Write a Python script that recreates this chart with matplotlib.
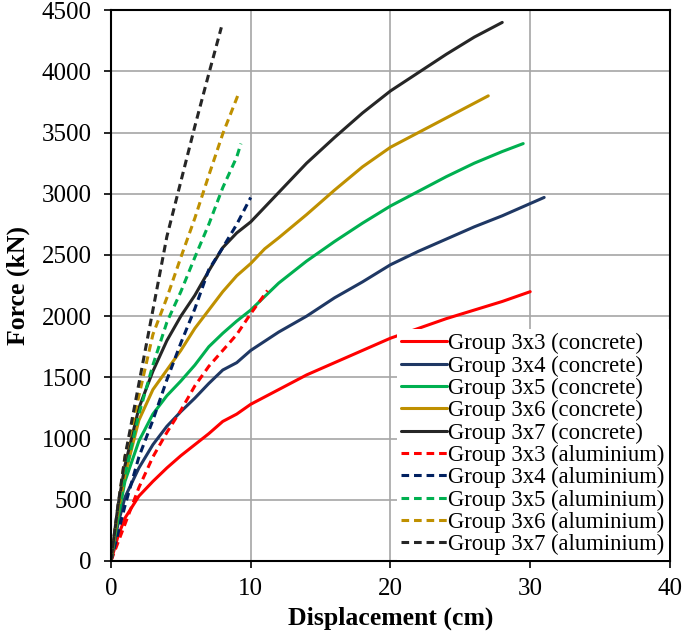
import matplotlib
matplotlib.use("Agg")
import matplotlib.pyplot as plt

# data (displacement cm, force kN)
c33_x = [0, 0.5, 1, 2, 3, 4, 5, 6, 7, 8, 9, 10, 12, 14, 16, 18, 20, 22, 24, 26, 28, 30]
c33_y = [0, 200, 350, 530, 650, 760, 860, 950, 1040, 1140, 1200, 1280, 1400, 1520, 1620, 1720, 1820, 1900, 1980, 2050, 2120, 2200]

c34_x = [0, 0.5, 1, 2, 3, 4, 5, 6, 7, 8, 9, 10, 12, 14, 16, 18, 20, 22, 24, 26, 28, 30, 31]
c34_y = [0, 300, 520, 760, 950, 1100, 1220, 1330, 1450, 1560, 1620, 1720, 1870, 2000, 2150, 2280, 2420, 2530, 2630, 2730, 2820, 2920, 2970]

c35_x = [0, 0.5, 1, 2, 3, 4, 5, 6, 7, 8, 9, 10, 12, 14, 16, 18, 20, 22, 24, 26, 28, 29.5]
c35_y = [0, 350, 650, 980, 1200, 1350, 1470, 1600, 1750, 1860, 1960, 2050, 2270, 2450, 2610, 2760, 2900, 3020, 3140, 3250, 3345, 3410]

c36_x = [0, 0.5, 1, 2, 3, 4, 5, 6, 7, 8, 9, 10, 11, 12, 14, 16, 18, 20, 22, 24, 26, 27]
c36_y = [0, 400, 700, 1150, 1400, 1560, 1720, 1900, 2050, 2200, 2330, 2430, 2550, 2640, 2830, 3030, 3220, 3380, 3500, 3620, 3740, 3800]

c37_x = [0, 0.5, 1, 2, 3, 4, 5, 6, 7, 8, 9, 10, 12, 14, 16, 18, 20, 22, 24, 26, 28]
c37_y = [0, 450, 780, 1250, 1550, 1800, 2000, 2170, 2370, 2560, 2680, 2770, 3010, 3250, 3460, 3660, 3840, 3990, 4140, 4280, 4400]

a33_x = [0, 1, 2, 3, 4, 5, 6, 7, 8, 9, 10, 11.2]
a33_y = [0, 300, 600, 850, 1050, 1230, 1430, 1590, 1720, 1850, 2020, 2210]

a34_x = [0, 1, 2, 3, 4, 5, 6, 7, 8, 9, 10]
a34_y = [0, 450, 850, 1150, 1480, 1780, 2060, 2380, 2560, 2750, 2970]

a35_x = [0, 1, 2, 3, 4, 5, 6, 7, 8, 9, 9.3]
a35_y = [0, 700, 1200, 1600, 1950, 2200, 2480, 2750, 3050, 3300, 3410]

a36_x = [0, 1, 2, 3, 4, 5, 6, 7, 8, 9, 9.1]
a36_y = [0, 850, 1350, 1850, 2150, 2480, 2800, 3150, 3490, 3780, 3810]

a37_x = [0, 0.5, 1, 2, 3, 4, 5, 6, 7, 7.9]
a37_y = [0, 450, 850, 1450, 2050, 2650, 3100, 3550, 3980, 4360]

groups = ['3x3', '3x4', '3x5', '3x6', '3x7']
conc_colors = ['#FF0000', '#1F3864', '#00B050', '#BF9000', '#262626']
alu_colors = ['#FF0000', '#002060', '#00B050', '#BF9000', '#262626']

concrete = [(c33_x, c33_y), (c34_x, c34_y), (c35_x, c35_y), (c36_x, c36_y), (c37_x, c37_y)]
aluminium = [(a33_x, a33_y), (a34_x, a34_y), (a35_x, a35_y), (a36_x, a36_y), (a37_x, a37_y)]

plt.rcParams['font.family'] = ['Liberation Serif', 'DejaVu Serif']

fig = plt.figure(figsize=(6.85, 6.36), dpi=100)
ax = fig.add_axes([0.162, 0.118, 0.816, 0.866])

for g, (x, y), c in zip(groups, concrete, conc_colors):
    ax.plot(x, y, color=c, lw=2.2, solid_capstyle='round', label='Group %s (concrete)' % g)
for g, (x, y), c in zip(groups, aluminium, alu_colors):
    ax.plot(x, y, color=c, lw=2.2, ls=(0, (2.5, 1.6)), label='Group %s (aluminium)' % g)

ax.set_xlim(0, 40)
ax.set_ylim(0, 4500)
ax.set_xticks(range(0, 41, 10))
ax.set_yticks(range(0, 4501, 500))
ax.grid(True, color='#A6A6A6', lw=1.2)
ax.set_axisbelow(True)
ax.tick_params(axis='y', pad=9)
ax.tick_params(axis='x', pad=7)
ax.tick_params(labelsize=18, direction='out', length=5, width=1.2)
for s in ax.spines.values():
    s.set_linewidth(1.5)
    s.set_color('black')

ax.set_xlabel('Displacement (cm)', fontsize=18.5, fontweight='bold', labelpad=5)
ax.set_ylabel('Force (kN)', fontsize=18.5, fontweight='bold', labelpad=8)

leg = ax.legend(loc='lower right', fontsize=16.3, frameon=True, framealpha=1,
                edgecolor='white', fancybox=False, handlelength=2.0,
                handletextpad=0.05, labelspacing=0.05, borderpad=0.2,
                borderaxespad=0.05)
leg.get_frame().set_linewidth(0)

fig.savefig('out.png', dpi=100)
